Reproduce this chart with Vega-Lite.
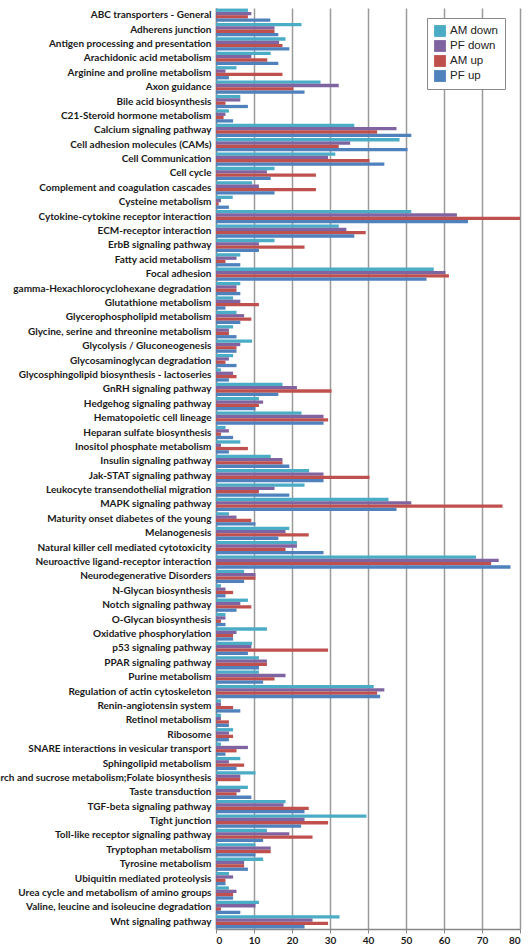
{
  "$schema": "https://vega.github.io/schema/vega-lite/v6.json",
  "width": 304,
  "height": 921,
  "autosize": {"type": "none"},
  "padding": {"left": 216, "top": 8, "right": 12, "bottom": 19},
  "background": "white",
  "view": {"stroke": null},
  "config": {"font": "Lato"},
  "data": {"values": [
    {"c": "ABC transporters - General", "s": "AM down", "v": 8.4}, {"c": "ABC transporters - General", "s": "PF down", "v": 9.3}, {"c": "ABC transporters - General", "s": "AM up", "v": 8.4}, {"c": "ABC transporters - General", "s": "PF up", "v": 14.3},
    {"c": "Adherens junction", "s": "AM down", "v": 22.5}, {"c": "Adherens junction", "s": "PF down", "v": 15.4}, {"c": "Adherens junction", "s": "AM up", "v": 15.4}, {"c": "Adherens junction", "s": "PF up", "v": 16.4},
    {"c": "Antigen processing and presentation", "s": "AM down", "v": 18.3}, {"c": "Antigen processing and presentation", "s": "PF down", "v": 16.6}, {"c": "Antigen processing and presentation", "s": "AM up", "v": 17.5}, {"c": "Antigen processing and presentation", "s": "PF up", "v": 19.3},
    {"c": "Arachidonic acid metabolism", "s": "AM down", "v": 14.4}, {"c": "Arachidonic acid metabolism", "s": "PF down", "v": 9.3}, {"c": "Arachidonic acid metabolism", "s": "AM up", "v": 13.5}, {"c": "Arachidonic acid metabolism", "s": "PF up", "v": 16.4},
    {"c": "Arginine and proline metabolism", "s": "AM down", "v": 5.4}, {"c": "Arginine and proline metabolism", "s": "PF down", "v": 2.5}, {"c": "Arginine and proline metabolism", "s": "AM up", "v": 17.5}, {"c": "Arginine and proline metabolism", "s": "PF up", "v": 3.4},
    {"c": "Axon guidance", "s": "AM down", "v": 27.5}, {"c": "Axon guidance", "s": "PF down", "v": 32.3}, {"c": "Axon guidance", "s": "AM up", "v": 20.4}, {"c": "Axon guidance", "s": "PF up", "v": 23.3},
    {"c": "Bile acid biosynthesis", "s": "AM down", "v": 6.4}, {"c": "Bile acid biosynthesis", "s": "PF down", "v": 6.4}, {"c": "Bile acid biosynthesis", "s": "AM up", "v": 2.5}, {"c": "Bile acid biosynthesis", "s": "PF up", "v": 8.4},
    {"c": "C21-Steroid hormone metabolism", "s": "AM down", "v": 3.4}, {"c": "C21-Steroid hormone metabolism", "s": "PF down", "v": 2.5}, {"c": "C21-Steroid hormone metabolism", "s": "AM up", "v": 2.0}, {"c": "C21-Steroid hormone metabolism", "s": "PF up", "v": 4.5},
    {"c": "Calcium signaling pathway", "s": "AM down", "v": 36.4}, {"c": "Calcium signaling pathway", "s": "PF down", "v": 47.5}, {"c": "Calcium signaling pathway", "s": "AM up", "v": 42.4}, {"c": "Calcium signaling pathway", "s": "PF up", "v": 51.4},
    {"c": "Cell adhesion molecules (CAMs)", "s": "AM down", "v": 48.3}, {"c": "Cell adhesion molecules (CAMs)", "s": "PF down", "v": 35.3}, {"c": "Cell adhesion molecules (CAMs)", "s": "AM up", "v": 32.3}, {"c": "Cell adhesion molecules (CAMs)", "s": "PF up", "v": 50.4},
    {"c": "Cell Communication", "s": "AM down", "v": 31.4}, {"c": "Cell Communication", "s": "PF down", "v": 29.5}, {"c": "Cell Communication", "s": "AM up", "v": 40.4}, {"c": "Cell Communication", "s": "PF up", "v": 44.3},
    {"c": "Cell cycle", "s": "AM down", "v": 15.4}, {"c": "Cell cycle", "s": "PF down", "v": 13.4}, {"c": "Cell cycle", "s": "AM up", "v": 26.3}, {"c": "Cell cycle", "s": "PF up", "v": 14.4},
    {"c": "Complement and coagulation cascades", "s": "AM down", "v": 9.5}, {"c": "Complement and coagulation cascades", "s": "PF down", "v": 11.3}, {"c": "Complement and coagulation cascades", "s": "AM up", "v": 26.3}, {"c": "Complement and coagulation cascades", "s": "PF up", "v": 15.4},
    {"c": "Cysteine metabolism", "s": "AM down", "v": 4.4}, {"c": "Cysteine metabolism", "s": "PF down", "v": 1.3}, {"c": "Cysteine metabolism", "s": "AM up", "v": 0.7}, {"c": "Cysteine metabolism", "s": "PF up", "v": 3.4},
    {"c": "Cytokine-cytokine receptor interaction", "s": "AM down", "v": 51.4}, {"c": "Cytokine-cytokine receptor interaction", "s": "PF down", "v": 63.4}, {"c": "Cytokine-cytokine receptor interaction", "s": "AM up", "v": 80}, {"c": "Cytokine-cytokine receptor interaction", "s": "PF up", "v": 66.3},
    {"c": "ECM-receptor interaction", "s": "AM down", "v": 32.3}, {"c": "ECM-receptor interaction", "s": "PF down", "v": 34.3}, {"c": "ECM-receptor interaction", "s": "AM up", "v": 39.4}, {"c": "ECM-receptor interaction", "s": "PF up", "v": 36.4},
    {"c": "ErbB signaling pathway", "s": "AM down", "v": 15.4}, {"c": "ErbB signaling pathway", "s": "PF down", "v": 11.3}, {"c": "ErbB signaling pathway", "s": "AM up", "v": 23.3}, {"c": "ErbB signaling pathway", "s": "PF up", "v": 11.3},
    {"c": "Fatty acid metabolism", "s": "AM down", "v": 6.4}, {"c": "Fatty acid metabolism", "s": "PF down", "v": 5.4}, {"c": "Fatty acid metabolism", "s": "AM up", "v": 2.5}, {"c": "Fatty acid metabolism", "s": "PF up", "v": 6.4},
    {"c": "Focal adhesion", "s": "AM down", "v": 57.3}, {"c": "Focal adhesion", "s": "PF down", "v": 60.4}, {"c": "Focal adhesion", "s": "AM up", "v": 61.3}, {"c": "Focal adhesion", "s": "PF up", "v": 55.4},
    {"c": "gamma-Hexachlorocyclohexane degradation", "s": "AM down", "v": 6.4}, {"c": "gamma-Hexachlorocyclohexane degradation", "s": "PF down", "v": 5.4}, {"c": "gamma-Hexachlorocyclohexane degradation", "s": "AM up", "v": 5.4}, {"c": "gamma-Hexachlorocyclohexane degradation", "s": "PF up", "v": 6.4},
    {"c": "Glutathione metabolism", "s": "AM down", "v": 4.5}, {"c": "Glutathione metabolism", "s": "PF down", "v": 6.4}, {"c": "Glutathione metabolism", "s": "AM up", "v": 11.3}, {"c": "Glutathione metabolism", "s": "PF up", "v": 2.5},
    {"c": "Glycerophospholipid metabolism", "s": "AM down", "v": 5.4}, {"c": "Glycerophospholipid metabolism", "s": "PF down", "v": 7.4}, {"c": "Glycerophospholipid metabolism", "s": "AM up", "v": 9.3}, {"c": "Glycerophospholipid metabolism", "s": "PF up", "v": 6.4},
    {"c": "Glycine, serine and threonine metabolism", "s": "AM down", "v": 4.5}, {"c": "Glycine, serine and threonine metabolism", "s": "PF down", "v": 3.4}, {"c": "Glycine, serine and threonine metabolism", "s": "AM up", "v": 3.4}, {"c": "Glycine, serine and threonine metabolism", "s": "PF up", "v": 5.4},
    {"c": "Glycolysis / Gluconeogenesis", "s": "AM down", "v": 9.5}, {"c": "Glycolysis / Gluconeogenesis", "s": "PF down", "v": 6.4}, {"c": "Glycolysis / Gluconeogenesis", "s": "AM up", "v": 5.4}, {"c": "Glycolysis / Gluconeogenesis", "s": "PF up", "v": 5.4},
    {"c": "Glycosaminoglycan degradation", "s": "AM down", "v": 4.5}, {"c": "Glycosaminoglycan degradation", "s": "PF down", "v": 3.4}, {"c": "Glycosaminoglycan degradation", "s": "AM up", "v": 2.5}, {"c": "Glycosaminoglycan degradation", "s": "PF up", "v": 5.4},
    {"c": "Glycosphingolipid biosynthesis - lactoseries", "s": "AM down", "v": 1.3}, {"c": "Glycosphingolipid biosynthesis - lactoseries", "s": "PF down", "v": 4.5}, {"c": "Glycosphingolipid biosynthesis - lactoseries", "s": "AM up", "v": 5.4}, {"c": "Glycosphingolipid biosynthesis - lactoseries", "s": "PF up", "v": 3.4},
    {"c": "GnRH signaling pathway", "s": "AM down", "v": 17.5}, {"c": "GnRH signaling pathway", "s": "PF down", "v": 21.3}, {"c": "GnRH signaling pathway", "s": "AM up", "v": 30.4}, {"c": "GnRH signaling pathway", "s": "PF up", "v": 16.4},
    {"c": "Hedgehog signaling pathway", "s": "AM down", "v": 11.3}, {"c": "Hedgehog signaling pathway", "s": "PF down", "v": 12.4}, {"c": "Hedgehog signaling pathway", "s": "AM up", "v": 11.3}, {"c": "Hedgehog signaling pathway", "s": "PF up", "v": 10.4},
    {"c": "Hematopoietic cell lineage", "s": "AM down", "v": 22.5}, {"c": "Hematopoietic cell lineage", "s": "PF down", "v": 28.3}, {"c": "Hematopoietic cell lineage", "s": "AM up", "v": 29.5}, {"c": "Hematopoietic cell lineage", "s": "PF up", "v": 28.3},
    {"c": "Heparan sulfate biosynthesis", "s": "AM down", "v": 2.5}, {"c": "Heparan sulfate biosynthesis", "s": "PF down", "v": 3.4}, {"c": "Heparan sulfate biosynthesis", "s": "AM up", "v": 1.3}, {"c": "Heparan sulfate biosynthesis", "s": "PF up", "v": 4.5},
    {"c": "Inositol phosphate metabolism", "s": "AM down", "v": 6.4}, {"c": "Inositol phosphate metabolism", "s": "PF down", "v": 1.3}, {"c": "Inositol phosphate metabolism", "s": "AM up", "v": 8.4}, {"c": "Inositol phosphate metabolism", "s": "PF up", "v": 3.4},
    {"c": "Insulin signaling pathway", "s": "AM down", "v": 14.4}, {"c": "Insulin signaling pathway", "s": "PF down", "v": 17.5}, {"c": "Insulin signaling pathway", "s": "AM up", "v": 17.5}, {"c": "Insulin signaling pathway", "s": "PF up", "v": 19.3},
    {"c": "Jak-STAT signaling pathway", "s": "AM down", "v": 24.5}, {"c": "Jak-STAT signaling pathway", "s": "PF down", "v": 28.3}, {"c": "Jak-STAT signaling pathway", "s": "AM up", "v": 40.4}, {"c": "Jak-STAT signaling pathway", "s": "PF up", "v": 28.3},
    {"c": "Leukocyte transendothelial migration", "s": "AM down", "v": 23.3}, {"c": "Leukocyte transendothelial migration", "s": "PF down", "v": 15.4}, {"c": "Leukocyte transendothelial migration", "s": "AM up", "v": 11.3}, {"c": "Leukocyte transendothelial migration", "s": "PF up", "v": 19.3},
    {"c": "MAPK signaling pathway", "s": "AM down", "v": 45.4}, {"c": "MAPK signaling pathway", "s": "PF down", "v": 51.4}, {"c": "MAPK signaling pathway", "s": "AM up", "v": 75.4}, {"c": "MAPK signaling pathway", "s": "PF up", "v": 47.5},
    {"c": "Maturity onset diabetes of the young", "s": "AM down", "v": 3.4}, {"c": "Maturity onset diabetes of the young", "s": "PF down", "v": 5.4}, {"c": "Maturity onset diabetes of the young", "s": "AM up", "v": 9.3}, {"c": "Maturity onset diabetes of the young", "s": "PF up", "v": 10.4},
    {"c": "Melanogenesis", "s": "AM down", "v": 19.3}, {"c": "Melanogenesis", "s": "PF down", "v": 18.3}, {"c": "Melanogenesis", "s": "AM up", "v": 24.4}, {"c": "Melanogenesis", "s": "PF up", "v": 16.4},
    {"c": "Natural killer cell mediated cytotoxicity", "s": "AM down", "v": 21.3}, {"c": "Natural killer cell mediated cytotoxicity", "s": "PF down", "v": 21.3}, {"c": "Natural killer cell mediated cytotoxicity", "s": "AM up", "v": 18.3}, {"c": "Natural killer cell mediated cytotoxicity", "s": "PF up", "v": 28.3},
    {"c": "Neuroactive ligand-receptor interaction", "s": "AM down", "v": 68.4}, {"c": "Neuroactive ligand-receptor interaction", "s": "PF down", "v": 74.4}, {"c": "Neuroactive ligand-receptor interaction", "s": "AM up", "v": 72.4}, {"c": "Neuroactive ligand-receptor interaction", "s": "PF up", "v": 77.5},
    {"c": "Neurodegenerative Disorders", "s": "AM down", "v": 7.4}, {"c": "Neurodegenerative Disorders", "s": "PF down", "v": 10.4}, {"c": "Neurodegenerative Disorders", "s": "AM up", "v": 10.4}, {"c": "Neurodegenerative Disorders", "s": "PF up", "v": 7.4},
    {"c": "N-Glycan biosynthesis", "s": "AM down", "v": 1.3}, {"c": "N-Glycan biosynthesis", "s": "PF down", "v": 2.5}, {"c": "N-Glycan biosynthesis", "s": "AM up", "v": 4.5}, {"c": "N-Glycan biosynthesis", "s": "PF up", "v": 2.5},
    {"c": "Notch signaling pathway", "s": "AM down", "v": 8.4}, {"c": "Notch signaling pathway", "s": "PF down", "v": 6.4}, {"c": "Notch signaling pathway", "s": "AM up", "v": 9.3}, {"c": "Notch signaling pathway", "s": "PF up", "v": 5.4},
    {"c": "O-Glycan biosynthesis", "s": "AM down", "v": 2.5}, {"c": "O-Glycan biosynthesis", "s": "PF down", "v": 2.5}, {"c": "O-Glycan biosynthesis", "s": "AM up", "v": 1.3}, {"c": "O-Glycan biosynthesis", "s": "PF up", "v": 2.5},
    {"c": "Oxidative phosphorylation", "s": "AM down", "v": 13.4}, {"c": "Oxidative phosphorylation", "s": "PF down", "v": 5.4}, {"c": "Oxidative phosphorylation", "s": "AM up", "v": 4.5}, {"c": "Oxidative phosphorylation", "s": "PF up", "v": 4.5},
    {"c": "p53 signaling pathway", "s": "AM down", "v": 9.5}, {"c": "p53 signaling pathway", "s": "PF down", "v": 9.3}, {"c": "p53 signaling pathway", "s": "AM up", "v": 29.5}, {"c": "p53 signaling pathway", "s": "PF up", "v": 8.4},
    {"c": "PPAR signaling pathway", "s": "AM down", "v": 11.3}, {"c": "PPAR signaling pathway", "s": "PF down", "v": 13.4}, {"c": "PPAR signaling pathway", "s": "AM up", "v": 13.4}, {"c": "PPAR signaling pathway", "s": "PF up", "v": 11.3},
    {"c": "Purine metabolism", "s": "AM down", "v": 11.3}, {"c": "Purine metabolism", "s": "PF down", "v": 18.3}, {"c": "Purine metabolism", "s": "AM up", "v": 15.4}, {"c": "Purine metabolism", "s": "PF up", "v": 12.4},
    {"c": "Regulation of actin cytoskeleton", "s": "AM down", "v": 41.5}, {"c": "Regulation of actin cytoskeleton", "s": "PF down", "v": 44.3}, {"c": "Regulation of actin cytoskeleton", "s": "AM up", "v": 42.4}, {"c": "Regulation of actin cytoskeleton", "s": "PF up", "v": 43.2},
    {"c": "Renin-angiotensin system", "s": "AM down", "v": 1.3}, {"c": "Renin-angiotensin system", "s": "PF down", "v": 1.3}, {"c": "Renin-angiotensin system", "s": "AM up", "v": 4.5}, {"c": "Renin-angiotensin system", "s": "PF up", "v": 6.4},
    {"c": "Retinol metabolism", "s": "AM down", "v": 1.3}, {"c": "Retinol metabolism", "s": "PF down", "v": 1.3}, {"c": "Retinol metabolism", "s": "AM up", "v": 3.4}, {"c": "Retinol metabolism", "s": "PF up", "v": 3.4},
    {"c": "Ribosome", "s": "AM down", "v": 4.5}, {"c": "Ribosome", "s": "PF down", "v": 3.4}, {"c": "Ribosome", "s": "AM up", "v": 4.5}, {"c": "Ribosome", "s": "PF up", "v": 3.4},
    {"c": "SNARE interactions in vesicular transport", "s": "AM down", "v": 1.3}, {"c": "SNARE interactions in vesicular transport", "s": "PF down", "v": 8.4}, {"c": "SNARE interactions in vesicular transport", "s": "AM up", "v": 5.4}, {"c": "SNARE interactions in vesicular transport", "s": "PF up", "v": 2.5},
    {"c": "Sphingolipid metabolism", "s": "AM down", "v": 6.4}, {"c": "Sphingolipid metabolism", "s": "PF down", "v": 3.4}, {"c": "Sphingolipid metabolism", "s": "AM up", "v": 7.4}, {"c": "Sphingolipid metabolism", "s": "PF up", "v": 5.4},
    {"c": "Starch and sucrose metabolism;Folate biosynthesis", "s": "AM down", "v": 10.4}, {"c": "Starch and sucrose metabolism;Folate biosynthesis", "s": "PF down", "v": 6.4}, {"c": "Starch and sucrose metabolism;Folate biosynthesis", "s": "AM up", "v": 6.4}, {"c": "Starch and sucrose metabolism;Folate biosynthesis", "s": "PF up", "v": 0.5},
    {"c": "Taste transduction", "s": "AM down", "v": 8.4}, {"c": "Taste transduction", "s": "PF down", "v": 6.4}, {"c": "Taste transduction", "s": "AM up", "v": 5.4}, {"c": "Taste transduction", "s": "PF up", "v": 9.3},
    {"c": "TGF-beta signaling pathway", "s": "AM down", "v": 18.3}, {"c": "TGF-beta signaling pathway", "s": "PF down", "v": 17.8}, {"c": "TGF-beta signaling pathway", "s": "AM up", "v": 24.4}, {"c": "TGF-beta signaling pathway", "s": "PF up", "v": 23.3},
    {"c": "Tight junction", "s": "AM down", "v": 39.6}, {"c": "Tight junction", "s": "PF down", "v": 23.3}, {"c": "Tight junction", "s": "AM up", "v": 29.5}, {"c": "Tight junction", "s": "PF up", "v": 22.4},
    {"c": "Toll-like receptor signaling pathway", "s": "AM down", "v": 13.4}, {"c": "Toll-like receptor signaling pathway", "s": "PF down", "v": 19.3}, {"c": "Toll-like receptor signaling pathway", "s": "AM up", "v": 25.4}, {"c": "Toll-like receptor signaling pathway", "s": "PF up", "v": 12.4},
    {"c": "Tryptophan metabolism", "s": "AM down", "v": 10.4}, {"c": "Tryptophan metabolism", "s": "PF down", "v": 14.4}, {"c": "Tryptophan metabolism", "s": "AM up", "v": 14.4}, {"c": "Tryptophan metabolism", "s": "PF up", "v": 10.4},
    {"c": "Tyrosine metabolism", "s": "AM down", "v": 12.4}, {"c": "Tyrosine metabolism", "s": "PF down", "v": 7.4}, {"c": "Tyrosine metabolism", "s": "AM up", "v": 7.4}, {"c": "Tyrosine metabolism", "s": "PF up", "v": 8.4},
    {"c": "Ubiquitin mediated proteolysis", "s": "AM down", "v": 3.4}, {"c": "Ubiquitin mediated proteolysis", "s": "PF down", "v": 4.5}, {"c": "Ubiquitin mediated proteolysis", "s": "AM up", "v": 2.5}, {"c": "Ubiquitin mediated proteolysis", "s": "PF up", "v": 2.5},
    {"c": "Urea cycle and metabolism of amino groups", "s": "AM down", "v": 3.4}, {"c": "Urea cycle and metabolism of amino groups", "s": "PF down", "v": 5.4}, {"c": "Urea cycle and metabolism of amino groups", "s": "AM up", "v": 4.5}, {"c": "Urea cycle and metabolism of amino groups", "s": "PF up", "v": 4.5},
    {"c": "Valine, leucine and isoleucine degradation", "s": "AM down", "v": 11.3}, {"c": "Valine, leucine and isoleucine degradation", "s": "PF down", "v": 10.4}, {"c": "Valine, leucine and isoleucine degradation", "s": "AM up", "v": 1.3}, {"c": "Valine, leucine and isoleucine degradation", "s": "PF up", "v": 6.4},
    {"c": "Wnt signaling pathway", "s": "AM down", "v": 32.5}, {"c": "Wnt signaling pathway", "s": "PF down", "v": 25.4}, {"c": "Wnt signaling pathway", "s": "AM up", "v": 29.5}, {"c": "Wnt signaling pathway", "s": "PF up", "v": 23.3}
  ]},
  "mark": {"type": "bar"},
  "encoding": {
    "y": {
      "field": "c",
      "type": "nominal",
      "sort": null,
      "scale": {"paddingInner": 0.08, "paddingOuter": 0.04},
      "axis": {
        "title": null,
        "labelFont": "Lato",
        "labelFontWeight": "bold",
        "labelFontSize": 10,
        "labelColor": "#1a1a1a",
        "labelLimit": 400,
        "labelPadding": 5,
        "ticks": false,
        "domainColor": "#888888",
        "domainWidth": 1.5
      }
    },
    "yOffset": {
      "field": "s",
      "type": "nominal",
      "sort": ["AM down", "PF down", "AM up", "PF up"]
    },
    "x": {
      "field": "v",
      "type": "quantitative",
      "scale": {"domain": [0, 80]},
      "axis": {
        "title": null,
        "values": [0, 10, 20, 30, 40, 50, 60, 70, 80],
        "grid": true,
        "gridColor": "#9a9a9a",
        "gridWidth": 1.5,
        "labelFont": "Lato",
        "labelFontWeight": "bold",
        "labelFontSize": 10,
        "labelColor": "#1a1a1a",
        "domainColor": "#888888",
        "domainWidth": 1.5,
        "tickColor": "#888888",
        "tickSize": 4
      }
    },
    "color": {
      "field": "s",
      "type": "nominal",
      "scale": {
        "domain": ["AM down", "PF down", "AM up", "PF up"],
        "range": ["#4BACC6", "#8064A2", "#C0504D", "#4F81BD"]
      },
      "legend": {
        "title": null,
        "orient": "none",
        "legendX": 211,
        "legendY": 10,
        "strokeColor": "#888888",
        "fillColor": "white",
        "padding": 7,
        "symbolType": "square",
        "symbolSize": 140,
        "symbolStrokeWidth": 0,
        "labelFont": "Liberation Sans",
        "labelFontSize": 11.5,
        "labelColor": "#222222",
        "rowPadding": 3
      }
    }
  }
}
